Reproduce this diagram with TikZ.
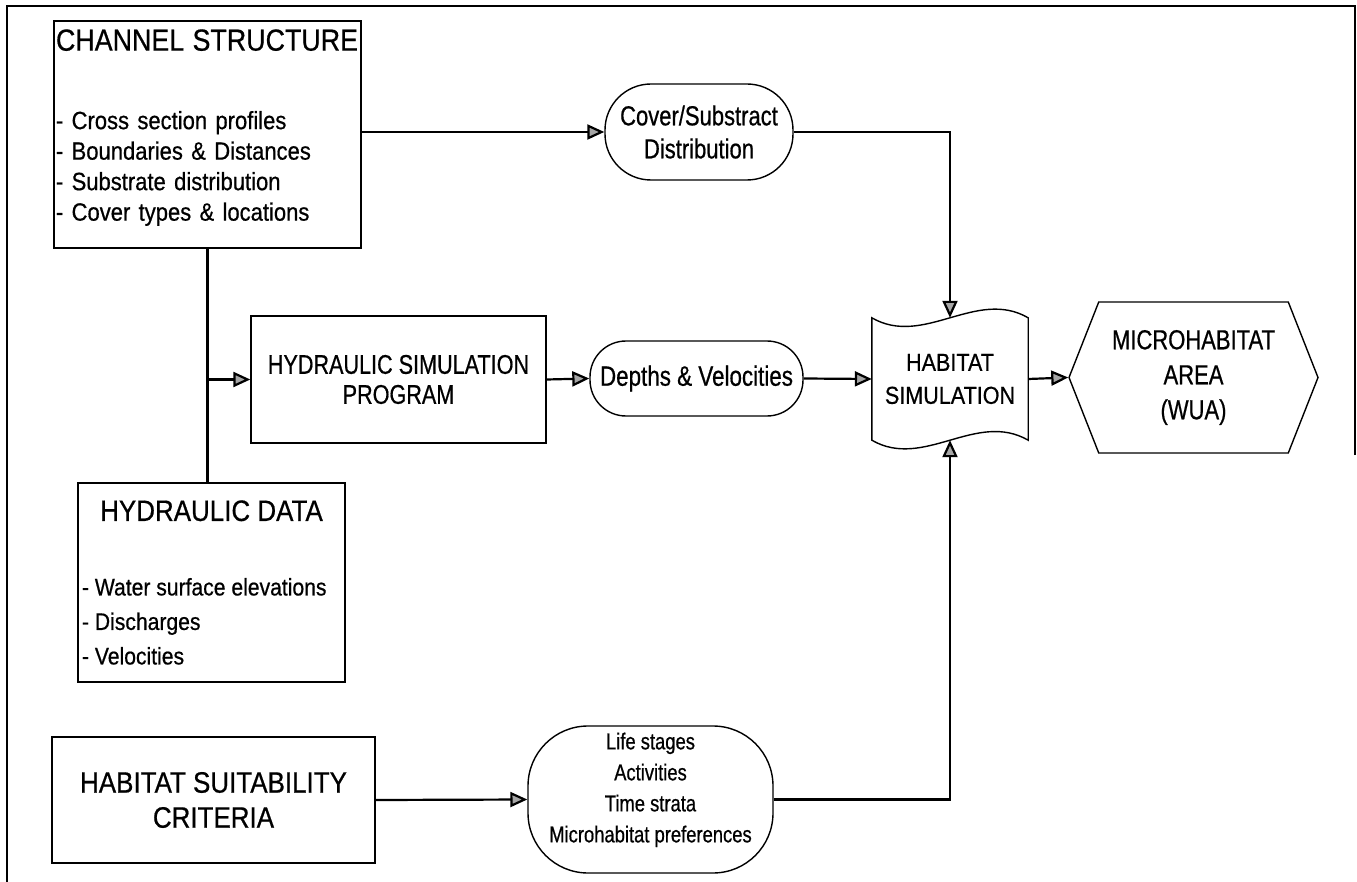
\documentclass[tikz,border=0pt]{standalone}
\usepackage{fontspec}
\setmainfont{Liberation Sans}
\newfontfamily\narrowfont{Liberation Sans}[FakeStretch=0.88,FakeBold=0.6]
\newfontfamily\slimfont{Liberation Sans}[FakeStretch=0.8,FakeBold=0.6]
\usetikzlibrary{arrows.meta,shapes.symbols}
\newcommand{\boxtitle}{\narrowfont\fontsize{29.5}{35}\selectfont}
\tikzset{
  pbox/.style={draw,line width=1.4pt,fill=white,inner sep=2pt,
    font=\narrowfont\fontsize{25}{30}\selectfont},
  pill/.style={pbox,align=center},
  flow/.style={line width=2.2pt,-{Triangle[length=17pt,width=15pt,fill=gray!70]}},
  link/.style={line width=2.2pt},
}
\begin{document}
\begin{tikzpicture}[x=1pt,y=-1pt]
   \useasboundingbox (0,0) rectangle (1357,882);
   % frame
   \draw[line width=2pt] (1355,455) -- (1355,6) -- (7,6) -- (7,882);
   % input boxes
   \node[pbox,minimum width=307pt,minimum height=227pt,text width=303pt,
     align=left,font=\narrowfont\fontsize{25}{30.5}\selectfont] (chan) at (207.5,134.5)
     {{\narrowfont\fontsize{30.5}{35}\selectfont CHANNEL STRUCTURE}\\[48pt]
      - Cross section profiles\\
      - Boundaries \& Distances\\
      - Substrate distribution\\
      - Cover types \& locations\rule[-19pt]{0pt}{1pt}};
   \node[pbox,minimum width=267pt,minimum height=199pt,
     inner xsep=4pt,align=left,font=\narrowfont\fontsize{24}{34.5}\selectfont] (hyd) at (211.5,582.5)
     {\makebox[259pt]{\boxtitle HYDRAULIC DATA}\\[40pt]
      - Water surface elevations\\
      - Discharges\\
      - Velocities};
   \node[pbox,minimum width=323pt,minimum height=126pt,align=center,
     font=\boxtitle] (hsc) at (213.5,800)
     {HABITAT SUITABILITY\\CRITERIA};
   % program and outputs
   \node[pbox,minimum width=295pt,minimum height=127pt,align=center,
     font=\slimfont\fontsize{27}{30}\selectfont] (hsp) at (398.5,379.5)
     {HYDRAULIC SIMULATION\\PROGRAM};
   \node[pill,minimum width=188pt,minimum height=96pt,rounded corners=46pt,
     font=\slimfont\fontsize{27.5}{33}\selectfont] (cover) at (699,132)
     {Cover/Substract\\Distribution};
   \node[pill,minimum width=213pt,minimum height=75pt,rounded corners=36pt,
     font=\slimfont\fontsize{28}{33}\selectfont] (depth) at (696.5,378.5)
     {Depths \& Velocities};
   \node[pill,minimum width=245pt,minimum height=147pt,rounded corners=60pt,
     font=\slimfont\fontsize{23}{31}\selectfont] (life) at (650.5,799.5)
     {Life stages\\Activities\\Time strata\\Microhabitat preferences\rule[-24pt]{0pt}{1pt}};
   \node[minimum width=156pt,minimum height=122pt,inner sep=0pt,align=center,
     font=\narrowfont\fontsize{24.5}{33}\selectfont] (hsim) at (950,379)
     {HABITAT\\SIMULATION};
   \draw[line width=1.4pt] (hsim.north west) .. controls +(52,30) and +(-52,-30) .. (hsim.north east)
     -- (hsim.south east) .. controls +(-52,-30) and +(52,30) .. (hsim.south west) -- cycle;
   \node[pbox,shape=signal,signal to=east and west,signal pointer angle=137,
     minimum width=249pt,minimum height=151pt,align=center,
     font=\slimfont\fontsize{27.5}{35}\selectfont] (wua) at (1193.5,377.5)
     {MICROHABITAT\\AREA\\(WUA)};
   % connectors
   \draw[flow] (chan.east |- cover.west) -- (cover.west);
   \draw[flow] (cover.east) -| (hsim.north);
   \draw[link] (chan.south) -- (chan.south |- hyd.north);
   \draw[flow] (chan.south |- hsp.west) -- (hsp.west);
   \draw[flow] (hsp.east) -- (depth.west);
   \draw[flow] (depth.east) -- (hsim.west);
   \draw[flow] (hsim.east) -- (wua.west);
   \draw[flow] (hsc.east) -- (life.west);
   \draw[flow] (life.east) -| (hsim.south);
 \end{tikzpicture}
\end{document}
